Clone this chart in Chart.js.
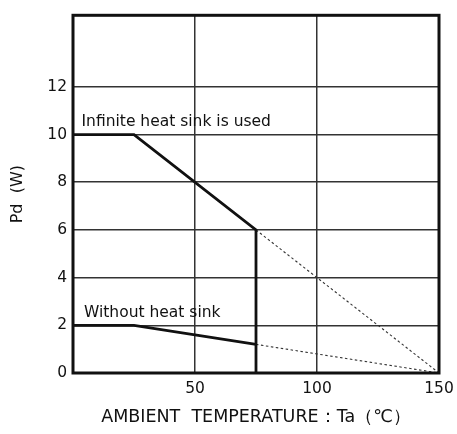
<!DOCTYPE html>
<html>
<head>
<meta charset="utf-8">
<script src="https://cdn.jsdelivr.net/npm/chart.js@4"></script>
<style>
html,body{margin:0;padding:0;background:#fff;}
#wrap{width:457px;height:434px;position:relative;}
</style>
</head>
<body>
<div id="wrap"><canvas id="c" width="457" height="434"></canvas></div>
<script>
// Data (Ambient temperature °C vs Pd W)
const infiniteTemp = [0, 25, 75, 75];
const infinitePd   = [10, 10, 6, 0];
const infiniteExtTemp = [75, 150];
const infiniteExtPd   = [6, 0];
const withoutTemp = [0, 25, 75];
const withoutPd   = [2, 2, 1.2];
const withoutExtTemp = [75, 150];
const withoutExtPd   = [1.2, 0];
const xTicks = [0, 50, 100, 150];
const yTicks = [0, 2, 4, 6, 8, 10, 12];
const labels = [
  {text: "Infinite heat sink is used", x: 3.5, y: 10.35},
  {text: "Without heat sink", x: 4.5, y: 2.35}
];

const pts = (xs, ys) => xs.map((x, i) => ({x: x, y: ys[i]}));
const FONT = "'DejaVu Sans', sans-serif";
const TXT = '#111';

const framePlugin = {
  id: 'frame',
  afterDatasetsDraw(chart) {
    const {ctx, chartArea: a, scales} = chart;
    ctx.save();
    ctx.fillStyle = TXT;
    ctx.font = '15.5px ' + FONT;
    ctx.textBaseline = 'alphabetic';
    labels.forEach(l => {
      ctx.fillText(l.text, scales.x.getPixelForValue(l.x), scales.y.getPixelForValue(l.y));
    });
    ctx.strokeStyle = '#111';
    ctx.lineWidth = 3;
    ctx.strokeRect(a.left, a.top, a.right - a.left, a.bottom - a.top);
    ctx.restore();
  }
};

new Chart(document.getElementById('c'), {
  type: 'line',
  data: {
    datasets: [
      {data: pts(infiniteTemp, infinitePd), borderColor: '#111', borderWidth: 2.8, pointRadius: 0, tension: 0},
      {data: pts(infiniteExtTemp, infiniteExtPd), borderColor: '#333', borderWidth: 1.1, borderDash: [2.5, 2.5], pointRadius: 0},
      {data: pts(withoutTemp, withoutPd), borderColor: '#111', borderWidth: 2.8, pointRadius: 0},
      {data: pts(withoutExtTemp, withoutExtPd), borderColor: '#333', borderWidth: 1.1, borderDash: [2.5, 2.5], pointRadius: 0}
    ]
  },
  options: {
    responsive: false,
    animation: false,
    layout: {padding: {left: 0, right: 18, top: 7, bottom: 0}},
    plugins: {legend: {display: false}, tooltip: {enabled: false}},
    scales: {
      x: {
        type: 'linear', min: 0, max: 150,
        afterBuildTicks: s => { s.ticks = xTicks.map(v => ({value: v})); },
        afterFit: s => { s.height = 61; s.paddingRight = 0; s.paddingLeft = 0; },
        ticks: {
          color: TXT, font: {family: FONT, size: 15.5}, padding: 7,
          callback: v => v === 0 ? '' : String(v), maxRotation: 0
        },
        grid: {color: '#333', lineWidth: 1.5, drawTicks: false},
        border: {display: false},
        title: {
          display: true, text: 'AMBIENT  TEMPERATURE：Ta（℃）',
          color: TXT, font: {family: FONT, size: 17.5}, padding: {top: 2, bottom: 6}
        }
      },
      y: {
        min: 0, max: 15,
        afterBuildTicks: s => { s.ticks = yTicks.map(v => ({value: v})); },
        afterFit: s => { s.width = 73; },
        ticks: {color: TXT, font: {family: FONT, size: 15.5}, padding: 6},
        grid: {color: '#333', lineWidth: 1.5, drawTicks: false},
        border: {display: false},
        title: {
          display: true, text: 'Pd  (W)',
          color: TXT, font: {family: FONT, size: 16}, padding: {top: 8, bottom: 0}
        }
      }
    }
  },
  plugins: [framePlugin]
});
</script>
</body>
</html>
